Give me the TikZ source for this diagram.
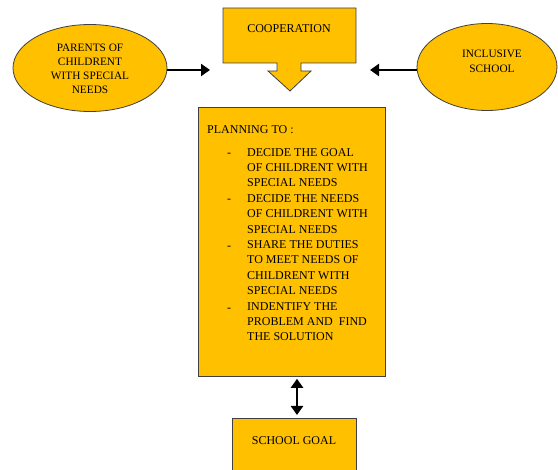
\documentclass[tikz,border=0pt]{standalone}
\usepackage{fontspec}
\setmainfont{Liberation Serif}
\usetikzlibrary{arrows.meta,shapes.geometric}
\definecolor{boxfill}{HTML}{FFC000}
\definecolor{boxline}{HTML}{404040}
\tikzset{
  shapefill/.style={fill=boxfill, draw=boxline, line width=0.8pt},
  oval/.style={shapefill, ellipse, inner sep=0pt},
  label/.style={font=\fontsize{12}{14}\selectfont, align=center, inner sep=0pt},
  bigarrow/.style={line width=2.8pt, -{Triangle[length=9pt,width=12pt]}},
  dblarrow/.style={line width=2.8pt, {Triangle[length=9pt,width=12pt]}-{Triangle[length=9pt,width=12pt]}},
}
\begin{document}
\begin{tikzpicture}[x=1pt,y=-1pt]
\useasboundingbox (0,0) rectangle (558,470);

% cooperation callout box with its down-pointing arrow
\draw[shapefill] (223,8) -- (356,8) -- (356,63) -- (301,63) -- (301,71) -- (311,71)
  -- (290,91) -- (268,71) -- (277,71) -- (277,63) -- (223,63) -- cycle;
\node[label] (coop) at (289,29) {COOPERATION};

% side ellipses
\node[oval, minimum width=154pt, minimum height=87pt] (parents) at (90,68) {};
\node[label, font=\fontsize{11.3}{14.2}\selectfont] (parentstxt) at (90,69) {PARENTS OF\\CHILDRENT\\WITH SPECIAL\\NEEDS};
\node[oval, minimum width=140pt, minimum height=87pt] (incl) at (487,67) {};
\node[label, font=\fontsize{11.3}{15}\selectfont] (incltxt) at (492,61) {INCLUSIVE\\SCHOOL};

\coordinate (coopL) at (210,70);
\coordinate (coopR) at (370,70);
\draw[bigarrow] (parents.east |- coopL) -- (coopL);
\draw[bigarrow] (incl.west |- coopR) -- (coopR);

% planning box
\node[shapefill, minimum width=187pt, minimum height=269pt, anchor=north west] (plan) at (198,107) {};
\node[label, anchor=base west] (plantitle) at (207,134) {PLANNING TO :};
\node[label, anchor=north west, align=left, font=\fontsize{12}{15.4}\selectfont] (items) at (247,148)
  {DECIDE THE GOAL\\OF CHILDRENT WITH\\SPECIAL NEEDS\\
   DECIDE THE NEEDS\\OF CHILDRENT WITH\\SPECIAL NEEDS\\
   SHARE THE DUTIES\\TO MEET NEEDS OF\\CHILDRENT WITH\\SPECIAL NEEDS\\
   INDENTIFY THE\\PROBLEM AND\ \ FIND\\THE SOLUTION};
\foreach \i/\yy in {1/155, 2/201, 3/248, 4/310}
  \node[label] (dash\i) at (229,\yy) {-};

% school goal box
\node[shapefill, minimum width=124pt, minimum height=70pt, anchor=north west] (goal) at (232,418) {};
\node[label] (goaltxt) at (294,441) {SCHOOL GOAL};

\draw[dblarrow, shorten <=2pt, shorten >=3pt] (plan.south -| 297,0) -- (goal.north -| 297,0);
\end{tikzpicture}
\end{document}
